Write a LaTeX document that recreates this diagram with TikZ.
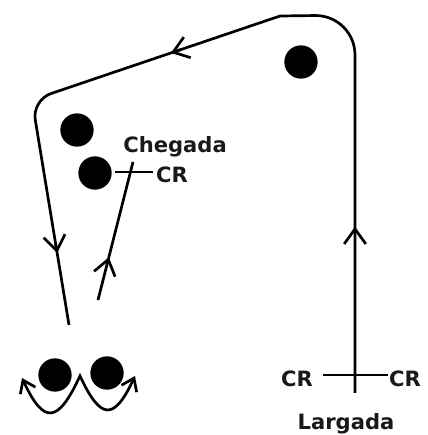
\documentclass[tikz,border=0pt]{standalone}
\usepackage{fontspec}
\setsansfont{DejaVu Sans}
\usepackage{xcolor}
\usepackage{tikz}
\usetikzlibrary{arrows.meta, calc}
\definecolor{cInk}{RGB}{0,0,0}
\definecolor{cText}{RGB}{25,25,25}
\tikzset{
	track/.style ={draw=cInk, line width=2.3pt, line join=round},
	dot/.style   ={circle, fill=cInk, minimum size=1.0cm, inner sep=0pt},
	lbl/.style   ={font=\sffamily\bfseries\fontsize{18}{21}\selectfont, text=cText, inner sep=0pt, anchor=base},
	barb/.style  ={-{Straight Barb[length=4.5mm, width=6.5mm]}, draw=cInk, line width=2.3pt},
	turn/.style  ={{Straight Barb[length=3.5mm, width=5mm]}-{Straight Barb[length=3.5mm, width=5mm]}, draw=cInk, line width=2.3pt},
}

\begin{document}
\begin{tikzpicture}[x=0.03cm, y=0.03cm]
	\useasboundingbox (0,0) rectangle (428,435);
	% circuit points
	\coordinate (start) at (355,42); \coordinate (ne) at (355,420); \coordinate (top) at (280,419);
	\coordinate (nw) at (32,335); \coordinate (finish) at (69,110);
	\coordinate (inA) at (98,135); \coordinate (inB) at (133,273);
	\coordinate (chL) at (115,263); \coordinate (chR) at (153,263);
	\coordinate (lgL) at (323,60); \coordinate (lgR) at (388,60);
	\coordinate (tL) at (22,57); \coordinate (tM) at (80,59); \coordinate (tR) at (135,59);
	% cones
	\node[dot] (d1) at (77,305) {}; \node[dot] (d2) at (95,262) {}; \node[dot] (d3) at (301,373) {};
	\node[dot] (d4) at (55,60) {}; \node[dot] (d5) at (107,62) {};
	% labels
	\node[lbl] (chegada) at (175,282) {Chegada};
	\node[lbl] (chcr) at (172,253) {CR};
	\node[lbl] (lgcrL) at (297,48) {CR};
	\node[lbl] (lgcrR) at (405,48) {CR};
	\node[lbl] (largada) at (346,5) {Largada};
	% track
	\draw[track] (start) [rounded corners=1.2cm] -- (ne) [sharp corners] -- (top) [rounded corners=0.6cm] -- (nw) -- (finish);
	\draw[track] (inA) -- (inB); \draw[track] (chL) -- (chR); \draw[track] (lgL) -- (lgR);
	\draw[turn] (tL) to[out=-65, in=-115, looseness=2.3] (tM) to[out=-65, in=-115, looseness=2.3] (tR);
	% direction marks
	\draw[barb] ($(start)!0.40!(ne)$) -- ($(start)!0.44!(ne)$);
	\draw[barb] ($(top)!0.40!(nw)$) -- ($(top)!0.44!(nw)$);
	\draw[barb] ($(nw)!0.64!(finish)$) -- ($(nw)!0.68!(finish)$);
	\draw[barb] ($(inA)!0.27!(inB)$) -- ($(inA)!0.31!(inB)$);
\end{tikzpicture}
\end{document}
